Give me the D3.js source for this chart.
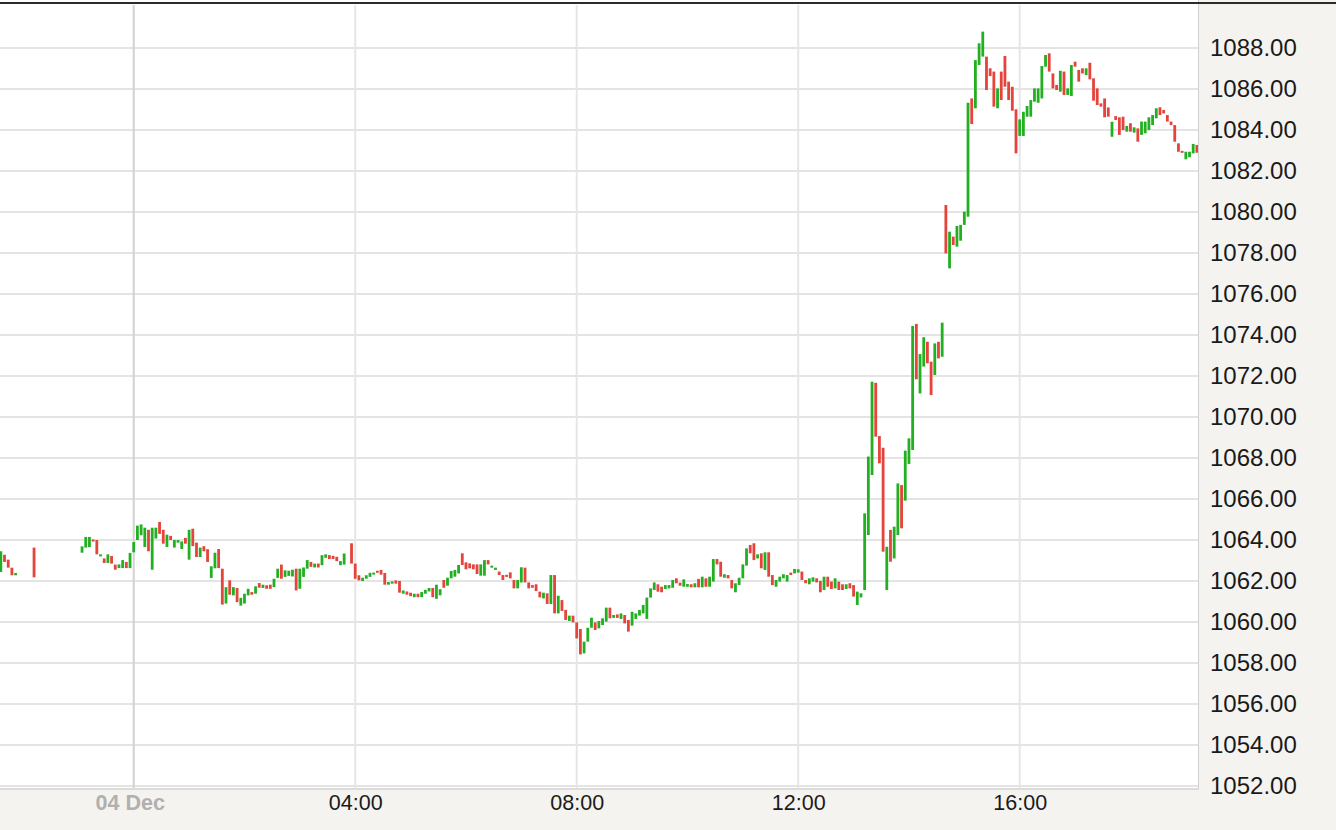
<!DOCTYPE html>
<html><head><meta charset="utf-8">
<script src="https://cdn.jsdelivr.net/npm/d3@7"></script>
<style>html,body{margin:0;padding:0;background:#fff;overflow:hidden}</style>
</head><body><svg id="c" width="1336" height="830"></svg>
<script>
// ---- data ----
const firstBarTime = new Date(2015, 11, 3, 21, 36); // 4-minute bars
const barMinutes = 4;
const opens = [
 1062.44,1063.28,1063.04,1062.65,1062.28,null,null,null,null,1063.63,
 null,null,null,null,null,null,null,null,null,null,
 null,null,1063.38,1063.63,1063.65,1064.0,1064.0,1063.2,1063.1,1062.88,
 1063.22,1062.8,1062.63,1062.63,1062.93,1062.63,1063.4,1064.0,1064.23,1063.66,
 1064.5,1062.55,1064.07,1064.88,1064.5,1063.66,1064.2,1063.63,1063.87,1063.56,
 1064.1,1063.04,1064.55,1063.87,1063.17,1063.7,1063.55,1062.15,1062.62,1063.56,
 1062.6,1060.9,1062.03,1061.3,1061.66,1060.8,1060.9,1061.3,1061.46,1061.38,
 1061.9,1061.66,1061.79,1061.82,1061.7,1062.15,1062.8,1062.2,1062.25,1062.22,
 1062.6,1061.62,1062.2,1062.6,1062.93,1062.66,1062.85,1062.77,1063.13,1063.26,
 1063.23,1063.18,1062.77,1062.8,null,1063.84,1062.85,1062.28,1062.0,1062.11,
 1062.2,1062.31,1062.49,1062.54,1062.39,1061.82,1061.87,1062.03,1062.0,1061.38,
 1061.49,1061.43,1061.21,1061.38,1061.21,1061.38,1061.49,1061.66,1061.13,1061.3,
 1062.05,1061.77,1062.13,1062.21,1062.37,1063.35,1062.91,1062.86,1062.81,1062.81,
 1062.26,1062.26,1063.02,1062.65,1062.54,1062.46,1062.29,1062.29,1062.42,1062.05,
 1061.64,1061.93,1062.65,1061.93,1061.8,1061.84,1061.48,1061.15,1061.4,1060.88,
 1062.29,1060.42,1061.07,1060.59,1060.05,1060.31,1059.98,1059.66,1058.47,1059.04,
 1059.72,1059.98,1059.69,1059.85,1060.02,1060.7,1060.2,1060.37,1060.15,1060.34,
 1060.1,1059.82,1060.15,1060.31,1060.42,1060.15,1061.19,1061.56,1061.84,1061.72,
 1061.61,1061.64,1061.67,1062.13,1061.92,1061.72,1061.72,1061.84,1061.69,1062.1,
 1061.69,1062.13,1061.72,1061.97,1063.07,1062.94,1062.16,1062.29,1062.05,1061.45,
 1061.8,1062.13,1062.75,1063.76,1063.84,1063.1,1063.35,1062.54,1063.4,1062.29,
 1061.72,1061.97,1062.13,1061.97,1062.41,1062.37,1062.41,1062.46,1062.05,1061.84,
 1061.97,1062.13,1062.0,1061.56,1062.21,1061.97,1061.64,1061.97,1061.84,1061.61,
 1061.89,1061.8,1060.83,1061.2,1061.56,1064.24,1067.17,1071.67,1069.07,1068.5,
 1061.56,1064.49,1063.1,1064.24,1066.68,1065.92,1067.71,1068.39,1074.54,1071.15,
 1072.46,1073.67,1072.7,1072.05,1073.67,1072.94,1080.34,1077.25,1078.8,1078.31,
 1078.6,1079.37,1079.77,1085.54,1085.06,1087.17,1087.58,1087.58,1087.01,1086.85,
 1085.06,1086.85,1087.61,1086.36,1086.11,1085.01,1083.71,1083.71,1084.65,1084.65,
 1085.38,1085.33,1085.54,1087.09,1087.74,1086.76,1086.2,1085.87,1086.85,1085.71,
 1085.66,1087.33,1086.93,1087.01,1086.68,1087.28,1086.52,1086.03,1085.3,1085.54,
 1085.1,1083.67,1084.68,1084.62,1084.65,1083.92,1084.33,1083.87,1084.08,1083.76,
 1083.84,1084.0,1084.24,1084.57,1085.11,1084.98,1084.73,1084.41,1084.24,1083.35,
 1082.98,1082.57,1082.67,1082.86,1083.27
];
const closes = [
 1063.45,1062.93,1062.65,1062.28,1062.39,null,null,null,null,1062.18,
 null,null,null,null,null,null,null,null,null,null,
 null,null,1063.69,1064.15,1064.15,1063.95,1063.3,1063.3,1062.88,1063.3,
 1062.85,1062.55,1062.81,1063.02,1062.63,1063.37,1063.9,1064.7,1064.76,1064.6,
 1063.45,1064.6,1064.6,1064.3,1063.82,1064.26,1064.0,1064.0,1064.0,1063.93,
 1063.82,1064.5,1063.7,1063.17,1063.63,1063.45,1062.93,1062.72,1063.38,1062.63,
 1060.85,1061.7,1061.33,1061.7,1060.97,1061.18,1061.38,1061.62,1061.33,1061.74,
 1061.67,1061.82,1061.62,1061.62,1062.11,1062.6,1062.11,1062.52,1062.5,1062.55,
 1061.54,1062.6,1062.66,1063.02,1062.69,1062.85,1062.66,1063.26,1063.3,1063.07,
 1063.07,1062.97,1062.97,1063.34,null,1062.85,1062.11,1062.03,1062.16,1062.28,
 1062.4,1062.41,1062.41,1062.31,1061.82,1061.95,1061.98,1061.87,1061.43,1061.54,
 1061.33,1061.26,1061.38,1061.21,1061.46,1061.57,1061.66,1061.21,1061.82,1061.6,
 1061.67,1062.16,1062.49,1062.54,1062.78,1062.78,1062.57,1062.62,1062.57,1062.34,
 1062.81,1063.02,1062.81,1062.75,1062.65,1062.29,1062.05,1062.21,1062.13,1061.64,
 1062.05,1062.67,1061.93,1061.64,1061.67,1061.51,1061.2,1061.43,1060.88,1062.29,
 1060.42,1061.28,1060.54,1060.1,1060.31,1059.98,1059.2,1058.42,1059.04,1059.72,
 1060.21,1059.61,1060.05,1060.18,1060.7,1060.18,1060.34,1060.2,1060.42,1059.93,
 1059.53,1060.5,1060.42,1060.59,1060.83,1061.19,1061.64,1061.93,1061.48,1061.45,
 1061.8,1061.8,1062.05,1061.89,1061.77,1062.08,1061.85,1061.69,1061.89,1061.69,
 1062.21,1061.72,1062.21,1063.07,1062.81,1062.21,1062.33,1062.13,1061.64,1061.89,
 1062.16,1062.81,1063.59,1063.35,1063.02,1063.3,1062.62,1063.4,1062.21,1061.8,
 1062.05,1062.21,1062.33,1062.29,1062.29,1062.59,1062.57,1062.05,1061.89,1062.13,
 1062.18,1061.93,1061.45,1062.21,1061.72,1061.61,1062.13,1061.56,1061.56,1061.84,
 1061.64,1061.24,1061.48,1061.4,1065.3,1068.07,1071.72,1069.04,1067.74,1063.43,
 1063.67,1062.94,1064.65,1066.76,1064.57,1068.36,1068.96,1074.44,1071.84,1073.07,
 1073.89,1072.62,1071.07,1073.59,1072.86,1074.6,1077.98,1079.04,1078.39,1079.32,
 1079.37,1080.02,1085.33,1084.29,1087.41,1088.23,1088.8,1085.95,1086.63,1085.14,
 1086.03,1085.46,1086.11,1085.46,1084.94,1082.86,1084.52,1084.89,1085.17,1085.46,
 1086.03,1086.03,1087.12,1087.66,1086.85,1086.03,1085.95,1086.89,1085.71,1086.03,
 1087.17,1087.09,1086.36,1086.76,1087.01,1086.47,1085.43,1085.22,1085.14,1084.62,
 1084.65,1084.4,1084.49,1083.76,1084.0,1084.2,1083.92,1084.13,1083.43,1084.41,
 1084.41,1084.62,1084.73,1085.06,1084.73,1084.81,1084.41,1084.24,1083.43,1082.94,
 1082.89,1082.94,1082.94,1083.32,1082.89
];
const yTickValues = [1052,1054,1056,1058,1060,1062,1064,1066,1068,1070,1072,1074,1076,1078,1080,1082,1084,1086,1088];
const xTickTimes = [new Date(2015,11,4,0,0), new Date(2015,11,4,4,0), new Date(2015,11,4,8,0), new Date(2015,11,4,12,0), new Date(2015,11,4,16,0)];
const xTickLabels = ["04 Dec","04:00","08:00","12:00","16:00"];

// ---- layout ----
const W = 1336, H = 830;
const plot = {left: 0, right: 1198, top: 5, bottom: 788};
const UP = "#22b022", DOWN = "#e4443b";
const font = "'Liberation Sans', Arial, Helvetica, sans-serif";

const bars = opens.map((o, i) => ({
  t: new Date(firstBarTime.getTime() + i * barMinutes * 60000),
  o, c: closes[i]
})).filter(d => d.o != null && d.c != null);

const x = d3.scaleTime()
  .domain([new Date(2015,11,3,21,35,6), new Date(2015,11,4,19,13,12)])
  .range([plot.left, plot.right]);
const y = d3.scaleLinear()
  .domain([1051.902, 1090.098])
  .range([plot.bottom, plot.top]);

const svg = d3.select("#c");
svg.append("rect").attr("width", W).attr("height", H).attr("fill", "#fff");

svg.append("defs").append("clipPath").attr("id", "clip")
  .append("rect").attr("x", plot.left).attr("y", plot.top)
  .attr("width", plot.right - plot.left).attr("height", plot.bottom - plot.top);

// gridlines
const grid = svg.append("g");
grid.selectAll("line.h").data(yTickValues).join("line")
  .attr("x1", plot.left).attr("x2", plot.right)
  .attr("y1", d => y(d)).attr("y2", d => y(d))
  .attr("stroke", "#e4e4e4").attr("stroke-width", 2);
grid.selectAll("line.v").data(xTickTimes).join("line")
  .attr("x1", d => x(d)).attr("x2", d => x(d))
  .attr("y1", plot.top).attr("y2", plot.bottom)
  .attr("stroke", (d, i) => i === 0 ? "#d2d2d2" : "#e6e6e6")
  .attr("stroke-width", 2);

// bars
svg.append("g").attr("clip-path", "url(#clip)")
  .selectAll("rect").data(bars).join("rect")
  .attr("x", d => x(d.t) - 1.4)
  .attr("width", 2.8)
  .attr("y", d => {
    const top = y(Math.max(d.o, d.c)), h = y(Math.min(d.o, d.c)) - top;
    return h < 2 ? (top + h / 2 - 1) : top;
  })
  .attr("height", d => Math.max(2, y(Math.min(d.o, d.c)) - y(Math.max(d.o, d.c))))
  .attr("fill", d => d.c >= d.o ? UP : DOWN);

// axis panels
const panel = "#f4f3ef";
svg.append("rect").attr("x", plot.right + 1).attr("y", 0).attr("width", W - plot.right - 1).attr("height", H).attr("fill", panel);
svg.append("rect").attr("x", 0).attr("y", plot.bottom + 1).attr("width", W).attr("height", H - plot.bottom - 1).attr("fill", panel);
svg.append("line").attr("x1", plot.right + 0.5).attr("x2", plot.right + 0.5).attr("y1", 0).attr("y2", plot.bottom + 1)
  .attr("stroke", "#cfcfcf").attr("stroke-width", 1);
svg.append("line").attr("x1", 0).attr("x2", plot.right + 1).attr("y1", plot.bottom + 1).attr("y2", plot.bottom + 1)
  .attr("stroke", "#dcdcdc").attr("stroke-width", 2);

// y axis
const yAxis = svg.append("g").attr("transform", `translate(${plot.right + 1},0)`)
  .call(d3.axisRight(y).tickValues(yTickValues).tickSize(0).tickPadding(11).tickFormat(d3.format(".2f")));
yAxis.select(".domain").remove();
yAxis.selectAll("text").attr("font-family", font).attr("font-size", 24).attr("fill", "#1a1a1a");

// x axis
const xAxis = svg.append("g").attr("transform", `translate(0,${plot.bottom})`)
  .call(d3.axisBottom(x).tickValues(xTickTimes).tickSize(0).tickPadding(7)
    .tickFormat((d, i) => xTickLabels[i]));
xAxis.select(".domain").remove();
xAxis.selectAll("text").attr("font-family", font).attr("font-size", 21.5)
  .attr("fill", (d, i) => i === 0 ? "#b0b0b0" : "#1a1a1a")
  .attr("font-weight", (d, i) => i === 0 ? "bold" : "normal")
  .attr("dx", (d, i) => i === 0 ? -4 : 0);

// top border
svg.append("rect").attr("x", 0).attr("y", 2).attr("width", W).attr("height", 2).attr("fill", "#2b2b2b");
</script>
</body></html>
